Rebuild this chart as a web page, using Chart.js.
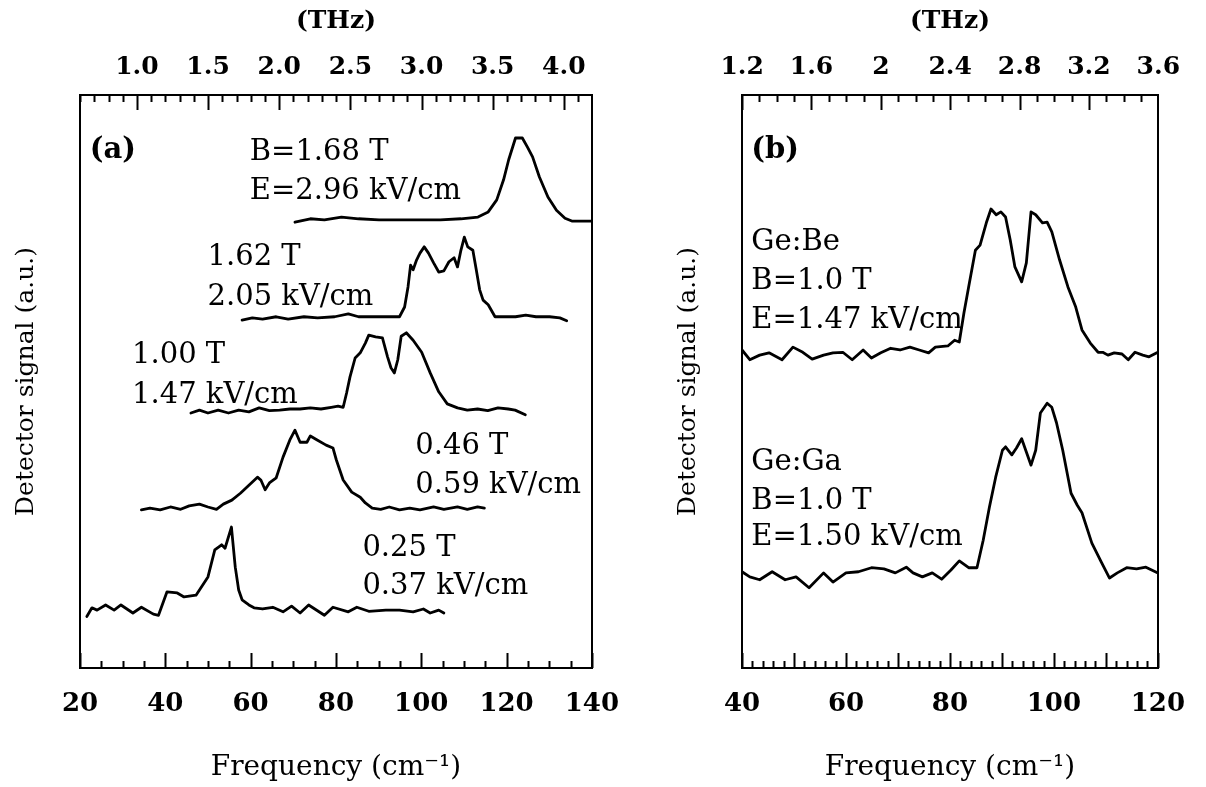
<!DOCTYPE html>
<html>
<head>
<meta charset="utf-8">
<script src="https://cdn.jsdelivr.net/npm/chart.js@4.4.0/dist/chart.umd.min.js"></script>
<style>
    body { margin: 0; background: #fff; width: 1206px; height: 787px; overflow: hidden; position: relative; }
    .panel { position: absolute; top: 0; height: 787px; }
    #wrapA { left: 8px; width: 632px; }
    #wrapB { left: 670px; width: 536px; }
</style>
</head>
<body>
<div class="panel" id="wrapA"><canvas id="chartA"></canvas></div>
<div class="panel" id="wrapB"><canvas id="chartB"></canvas></div>
<script>
// 1 THz expressed in cm-1
const CM_PER_THZ = 33.356;

// ---- Panel (a): spectra at several B / E ----
const freqA168 = [70.4, 74, 77.3, 81.3, 85.3, 90.1, 94.9, 99.7, 104.5, 109.3, 113.3, 115.7, 117.7, 119.3, 120.5, 122.1, 123.7, 124.9, 126.1, 127.7, 129.7, 131.7, 133.7, 135.3, 140];
const sigA168 = [77.8, 78.4, 78.2, 78.7, 78.4, 78.2, 78.2, 78.2, 78.2, 78.4, 78.7, 79.6, 81.7, 85.2, 88.7, 92.5, 92.5, 90.9, 89.2, 85.7, 82.2, 79.9, 78.5, 78.0, 78.0];

const freqA162 = [58, 60.4, 62.8, 66, 68.8, 72.5, 75.7, 79.7, 82.9, 85.3, 88.5, 91.7, 94.9, 96.1, 96.9, 97.5, 98.1, 98.9, 99.7, 100.7, 101.7, 102.9, 104.1, 105.3, 106.5, 107.7, 108.5, 109.3, 110.1, 110.9, 112.1, 112.9, 113.7, 114.5, 115.7, 117.3, 119.7, 122.1, 124.5, 126.9, 130.1, 132.5, 134.1];
const sigA162 = [60.7, 61.1, 60.9, 61.3, 60.9, 61.3, 61.1, 61.3, 61.8, 61.3, 61.3, 61.3, 61.3, 63.0, 66.5, 70.3, 69.5, 71.2, 72.4, 73.5, 72.4, 70.7, 69.1, 69.3, 70.9, 71.6, 70.0, 72.9, 75.2, 73.5, 72.9, 69.5, 66.0, 64.2, 63.4, 61.3, 61.3, 61.3, 61.6, 61.3, 61.3, 61.1, 60.6];

const freqA100 = [46, 48, 50, 52.4, 54.8, 57.2, 59.6, 62, 64.4, 66.8, 69.2, 71.6, 74, 76.5, 78.9, 80.5, 81.7, 82.5, 83.3, 84.5, 85.7, 86.9, 87.7, 89.3, 90.9, 92.1, 92.9, 93.7, 94.5, 95.3, 96.5, 98.1, 100.1, 102.1, 104.1, 106.1, 108.5, 110.8, 113.2, 115.6, 118, 120.4, 122, 124.4];
const sigA100 = [44.5, 45.0, 44.5, 45.0, 44.5, 45.0, 44.7, 45.4, 44.9, 45.0, 45.2, 45.2, 45.4, 45.2, 45.5, 45.7, 45.5, 48.0, 50.8, 54.1, 55.0, 56.7, 58.1, 57.8, 57.6, 54.3, 52.4, 51.5, 53.8, 57.9, 58.5, 57.2, 55.1, 51.5, 48.2, 46.1, 45.4, 45.0, 45.2, 44.9, 45.4, 45.2, 45.0, 44.2];

const freqA046 = [34.4, 36.4, 38.8, 41.2, 43.6, 45.6, 48, 50, 52, 53.6, 55.6, 57.6, 59.6, 61.6, 62.4, 63.4, 64.4, 66, 67.6, 69.2, 70.4, 71.6, 73.2, 74, 75.6, 77.7, 79.3, 80.1, 81.7, 83.7, 85.7, 86.9, 88.5, 90.5, 92.5, 94.9, 97.3, 99.7, 102.9, 105.3, 108.5, 110.8, 113.2, 114.8];
const sigA046 = [27.6, 27.9, 27.6, 28.1, 27.7, 28.3, 28.6, 28.1, 27.7, 28.6, 29.3, 30.5, 31.9, 33.3, 32.8, 31.1, 32.3, 33.2, 36.8, 39.8, 41.5, 39.4, 39.4, 40.5, 39.8, 38.9, 38.4, 36.3, 32.8, 30.7, 29.8, 28.8, 27.9, 27.7, 28.1, 27.6, 27.9, 27.6, 28.1, 27.7, 28.1, 27.7, 28.1, 27.9];

const freqA025 = [21.6, 22.8, 24, 26, 28, 29.6, 32.4, 34.4, 37.2, 38.4, 40.4, 42.8, 44.4, 47.2, 50, 51.6, 53.2, 54, 55.5, 56.4, 57.2, 58, 59.6, 60.8, 62.8, 65.2, 67.6, 69.6, 71.6, 73.6, 77.3, 79.3, 82.9, 84.9, 87.7, 91.7, 94.9, 98.1, 100.5, 102.1, 104.1, 105.3];
const sigA025 = [9.0, 10.5, 10.1, 11.0, 10.1, 11.0, 9.6, 10.6, 9.4, 9.2, 13.3, 13.1, 12.4, 12.7, 15.9, 20.6, 21.5, 20.9, 24.6, 17.6, 13.6, 11.9, 11.0, 10.5, 10.3, 10.6, 9.8, 10.8, 9.6, 11.0, 9.2, 10.6, 9.8, 10.6, 9.9, 10.1, 10.1, 9.8, 10.3, 9.6, 10.1, 9.6];

// ---- Panel (b): Ge:Be vs Ge:Ga at B = 1.0 T ----
const freqGeBe = [40, 41.5, 43.4, 45.2, 47.7, 49.8, 51.7, 53.5, 55.7, 57.5, 59.4, 61.2, 63.3, 64.9, 66.7, 68.6, 70.4, 72.3, 74.1, 75.9, 77.2, 79.6, 80.9, 81.8, 82.7, 83.6, 84.9, 85.8, 87, 87.9, 88.9, 89.8, 90.7, 91.6, 92.5, 93.8, 94.7, 95.6, 96.5, 97.8, 98.7, 99.6, 101.1, 102.7, 104.2, 105.4, 107, 108.5, 109.4, 110.4, 111.6, 113.1, 114.3, 115.6, 117.1, 118.3, 120];
const sigGeBe = [55.5, 53.8, 54.6, 55.0, 53.8, 56.0, 55.1, 53.9, 54.6, 55.0, 55.1, 53.8, 55.5, 54.1, 55.0, 55.8, 55.5, 56.0, 55.5, 55.0, 56.0, 56.2, 57.2, 56.9, 62.0, 66.5, 72.9, 73.8, 77.7, 80.1, 79.1, 79.6, 78.7, 74.7, 70.0, 67.4, 70.7, 79.6, 79.1, 77.7, 77.8, 76.1, 71.2, 66.5, 63.0, 59.0, 56.7, 55.1, 55.1, 54.6, 55.0, 54.8, 53.8, 55.1, 54.6, 54.3, 55.1];

const freqGeGa = [40, 41.5, 43.4, 45.8, 48.3, 50.4, 52.9, 55.7, 57.5, 60, 62.4, 64.9, 67.3, 69.5, 71.6, 72.9, 74.7, 76.6, 78.4, 80.2, 81.8, 83.6, 85.2, 86.4, 87.6, 88.8, 90.1, 90.7, 91.9, 92.8, 93.8, 94.7, 95.6, 96.5, 97.4, 98.7, 99.6, 100.5, 101.7, 103.3, 104.5, 105.4, 107.3, 109.1, 110.7, 112.2, 114, 115.9, 117.7, 120];
const sigGeGa = [16.8, 15.9, 15.4, 16.8, 15.4, 15.9, 14.0, 16.6, 15.0, 16.6, 16.8, 17.5, 17.3, 16.6, 17.6, 16.6, 15.9, 16.6, 15.5, 17.1, 18.7, 17.5, 17.5, 22.3, 28.1, 33.3, 38.0, 38.6, 37.2, 38.4, 40.0, 37.7, 35.4, 38.0, 44.5, 46.2, 45.5, 42.8, 38.0, 30.5, 28.4, 27.1, 21.8, 18.5, 15.7, 16.6, 17.5, 17.3, 17.6, 16.6];

// top axis tick labels (THz)
const thzTicksA = [1.0, 1.5, 2.0, 2.5, 3.0, 3.5, 4.0];
const thzTextA = ['1.0', '1.5', '2.0', '2.5', '3.0', '3.5', '4.0'];
const thzTicksB = [1.2, 1.6, 2.0, 2.4, 2.8, 3.2, 3.6];
const thzTextB = ['1.2', '1.6', '2', '2.4', '2.8', '3.2', '3.6'];

// text labels, anchored in data coordinates [text, cm-1, signal, bold]
const notesA = [
    ['(a)', 22.3, 90.4, true],
    ['B=1.68 T', 59.8, 89.9], ['E=2.96 kV/cm', 59.8, 83.1],
    ['1.62 T', 49.9, 71.7], ['2.05 kV/cm', 49.9, 64.7],
    ['1.00 T', 32.2, 54.6], ['1.47 kV/cm', 32.2, 47.6],
    ['0.46 T', 98.6, 38.6], ['0.59 kV/cm', 98.6, 31.9],
    ['0.25 T', 86.2, 20.9], ['0.37 kV/cm', 86.2, 14.3]
];
const notesB = [
    ['(b)', 41.8, 90.4, true],
    ['Ge:Be', 41.8, 74.2], ['B=1.0 T', 41.8, 67.4], ['E=1.47 kV/cm', 41.8, 60.7],
    ['Ge:Ga', 41.8, 35.8], ['B=1.0 T', 41.8, 29.0], ['E=1.50 kV/cm', 41.8, 22.7]
];

const SERIF = '"DejaVu Serif", "Liberation Serif", serif';
const INK = '#000';

function isStep(v, step) {
    const r = v / step;
    return Math.abs(r - Math.round(r)) < 1e-6;
}

// inward tick marks on bottom (cm-1) and top (THz) edges
function innerTicks(cfg) {
    return {
        id: 'innerTicks',
        afterDraw(chart) {
            const { ctx, chartArea: a, scales } = chart;
            ctx.save();
            ctx.strokeStyle = INK;
            ctx.lineWidth = 2;
            ctx.beginPath();
            for (let v = cfg.min; v <= cfg.max + 1e-6; v += cfg.minorStep) {
                const px = Math.round(scales.x.getPixelForValue(v)) + 0.5;
                const len = isStep(v, cfg.majorStep) ? 15 : 7;
                ctx.moveTo(px, a.bottom);
                ctx.lineTo(px, a.bottom - len);
            }
            const k0 = Math.ceil(cfg.min / CM_PER_THZ * 10 - 1e-6);
            const k1 = Math.floor(cfg.max / CM_PER_THZ * 10 + 1e-6);
            for (let k = k0; k <= k1; k++) {
                const t = k / 10;
                const px = Math.round(scales.xTop.getPixelForValue(t * CM_PER_THZ)) + 0.5;
                const len = isStep(t, cfg.thzMajor) ? 15 : 7;
                ctx.moveTo(px, a.top);
                ctx.lineTo(px, a.top + len);
            }
            ctx.stroke();
            ctx.restore();
        }
    };
}

function notesPlugin(notes) {
    return {
        id: 'notes',
        afterDatasetsDraw(chart) {
            const { ctx, scales } = chart;
            ctx.save();
            ctx.fillStyle = INK;
            ctx.textAlign = 'left';
            ctx.textBaseline = 'middle';
            notes.forEach(n => {
                ctx.font = (n[3] ? 'bold ' : '') + '29px ' + SERIF;
                ctx.fillText(n[0], scales.x.getPixelForValue(n[1]), scales.y.getPixelForValue(n[2]));
            });
            ctx.restore();
        }
    };
}

function makePanel(id, cfg) {
    const datasets = cfg.series.map(s => ({
        data: s[0].map((v, i) => ({ x: v, y: s[1][i] })),
        borderColor: INK,
        borderWidth: 2.8,
        borderJoinStyle: 'round',
        borderCapStyle: 'round',
        pointRadius: 0,
        tension: 0,
        fill: false
    }));
    const border = { display: true, color: INK, width: 2 };
    const noGrid = { display: false, drawTicks: false };

    return new Chart(document.getElementById(id), {
        type: 'line',
        data: { datasets: datasets },
        options: {
            responsive: true,
            maintainAspectRatio: false,
            animation: false,
            layout: { padding: 0 },
            plugins: { legend: { display: false }, tooltip: { enabled: false } },
            scales: {
                x: {
                    type: 'linear', position: 'bottom', min: cfg.min, max: cfg.max,
                    grid: noGrid, border: border,
                    ticks: {
                        stepSize: 20, padding: 21, color: INK, maxRotation: 0, autoSkip: false,
                        font: { family: SERIF, size: 26, weight: 'bold' }
                    },
                    title: {
                        display: true, text: 'Frequency (cm\u207B\u00B9)', color: INK,
                        font: { family: SERIF, size: 28 }, padding: { top: 0, bottom: 2 }
                    },
                    afterFit: s => { s.height = 119; }
                },
                xTop: {
                    type: 'linear', axis: 'x', position: 'top', min: cfg.min, max: cfg.max,
                    grid: noGrid, border: border,
                    afterBuildTicks: s => { s.ticks = cfg.thzTicks.map(t => ({ value: t * CM_PER_THZ })); },
                    ticks: {
                        padding: 13, color: INK, maxRotation: 0, autoSkip: false,
                        font: { family: SERIF, size: 25, weight: 'bold' },
                        callback: (v, i) => cfg.thzText[i]
                    },
                    title: {
                        display: true, text: '(THz)', color: INK,
                        font: { family: SERIF, size: 25, weight: 'bold' }, padding: { top: 6, bottom: 0 }
                    },
                    afterFit: s => { s.height = 95; }
                },
                y: {
                    type: 'linear', position: 'left', min: 0, max: 100,
                    grid: noGrid, border: border,
                    ticks: { display: false },
                    title: {
                        display: true, text: 'Detector signal (a.u.)', color: INK,
                        font: { family: SERIF, size: 25 }, padding: { top: 3, bottom: 0 }
                    },
                    afterFit: s => { s.width = 72; }
                },
                yRight: {
                    type: 'linear', axis: 'y', position: 'right', min: 0, max: 100,
                    grid: noGrid, border: border,
                    ticks: { display: false },
                    afterFit: s => { s.width = cfg.rightWidth; }
                }
            }
        },
        plugins: [innerTicks(cfg), notesPlugin(cfg.notes)]
    });
}

makePanel('chartA', {
    min: 20, max: 140, minorStep: 5, majorStep: 20, thzMajor: 0.5,
    thzTicks: thzTicksA, thzText: thzTextA, rightWidth: 38, notes: notesA,
    series: [[freqA168, sigA168], [freqA162, sigA162], [freqA100, sigA100], [freqA046, sigA046], [freqA025, sigA025]]
});

makePanel('chartB', {
    min: 40, max: 120, minorStep: 2, majorStep: 10, thzMajor: 0.4,
    thzTicks: thzTicksB, thzText: thzTextB, rightWidth: 30, notes: notesB,
    series: [[freqGeBe, sigGeBe], [freqGeGa, sigGeGa]]
});
</script>
</body>
</html>
